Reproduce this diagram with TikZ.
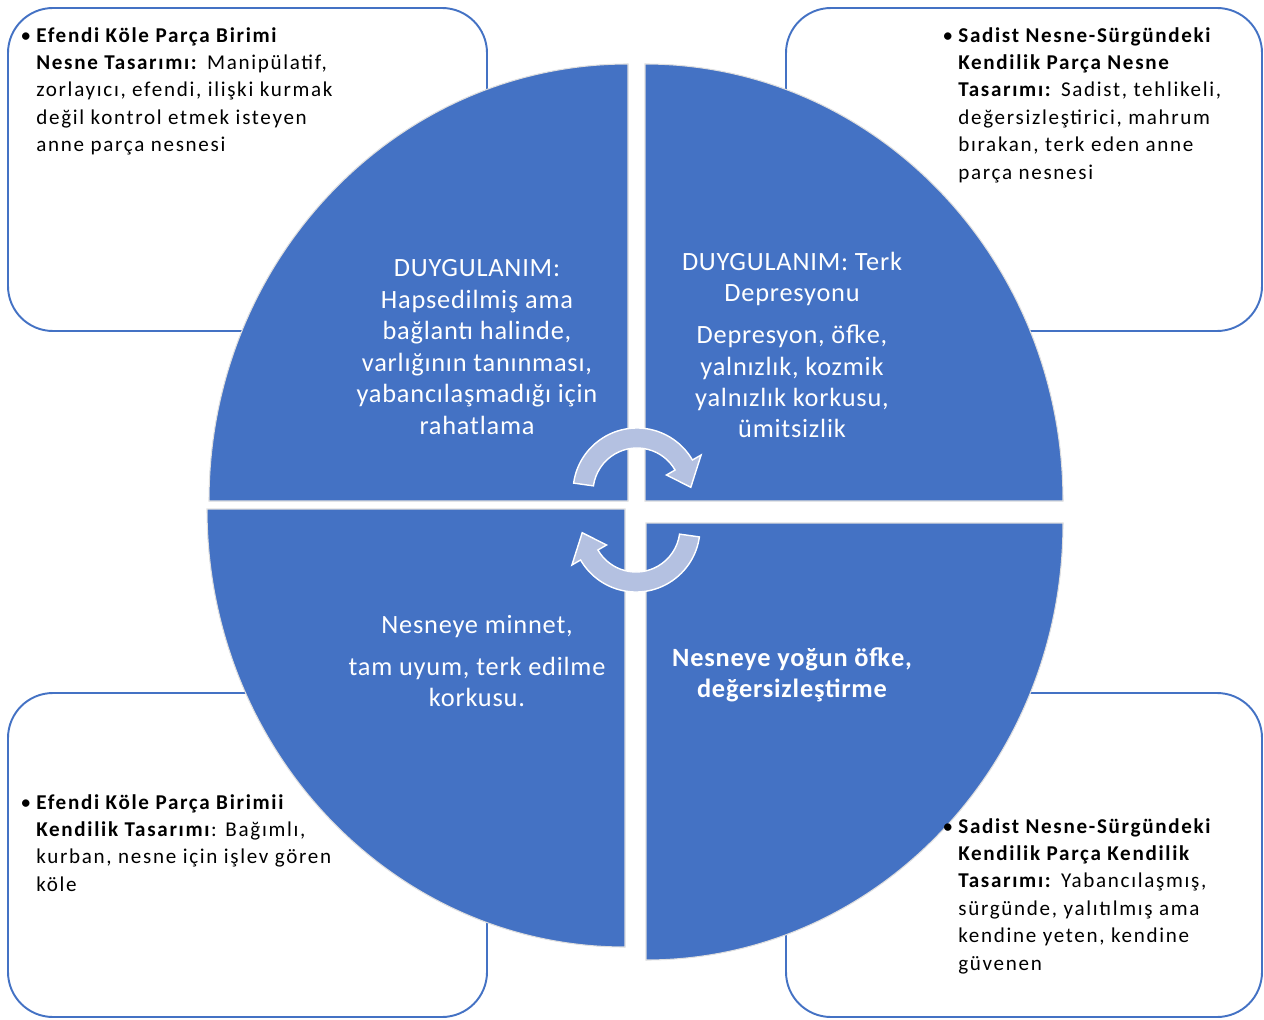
\documentclass[tikz,border=0pt]{standalone}
\usepackage{fontspec}
\setmainfont{Carlito}
\newfontfamily\notefont{Carlito}[LetterSpace=8]
\newfontfamily\quadfont{Carlito}[LetterSpace=3]
\definecolor{quadblue}{HTML}{4472C4}
\definecolor{arrowblue}{HTML}{B4C1E1}
\begin{document}
\begin{tikzpicture}[x=0.02cm, y=0.02cm,
    cornerbox/.style={draw=quadblue, line width=1.1pt, fill=white, rounded corners=0.9cm},
    quadrant/.style={fill=quadblue, draw=white!75!gray, line width=0.6pt},
    quadtext/.style={text=white, align=center, inner sep=0pt, font=\quadfont\fontsize{15}{17.9}\selectfont},
    boxtext/.style={anchor=north west, align=left, inner sep=0pt, font=\notefont\fontsize{12}{15.6}\selectfont},
    cyclearrow/.style={fill=arrowblue, draw=white, line width=0.8pt}]
    \useasboundingbox (0,0) rectangle (1264,1019);

    % corner boxes
    \draw[cornerbox] (8,688) rectangle (487,1011);
    \draw[cornerbox] (786,688) rectangle (1262,1011);
    \draw[cornerbox] (8,2) rectangle (487,326);
    \draw[cornerbox] (786,2) rectangle (1262,326);

    % quadrants
    \draw[quadrant] (628,518) -- (209,518) arc (180:90:419 and 437) -- cycle;
    \draw[quadrant] (645,518) -- (645,955) arc (90:0:418 and 437) -- cycle;
    \draw[quadrant] (625,510) -- (207,510) arc (180:270:418 and 438) -- cycle;
    \draw[quadrant] (646,496) -- (1063,496) arc (0:-90:417 and 437) -- cycle;

    % cycle arrows
    \foreach \cx/\cy/\rot in {637/527/0, 636/491/180}
      \draw[cyclearrow, shift={(\cx,\cy)}, rotate=\rot]
        (172:64) arc (172:30:64) -- (30:74) -- (5:54) -- (30:34) -- (30:44) arc (30:172:44) -- cycle;

    % quadrant texts
    \node(tlquad)[quadtext] at (477,672) {DUYGULANIM:\\Hapsedilmiş ama\\bağlantı halinde,\\varlığının tanınması,\\yabancılaşmadığı için\\rahatlama};
    \node(trquad)[quadtext] at (792,674) {DUYGULANIM: Terk\\Depresyonu\\[6pt]Depresyon, öfke,\\yalnızlık, kozmik\\yalnızlık korkusu,\\ümitsizlik};
    \node(blquad)[quadtext] at (477,358) {Nesneye minnet,\\[6pt]tam uyum, terk edilme\\korkusu.};
    \node(brquad)[quadtext, font=\quadfont\fontsize{15}{17.9}\selectfont\bfseries] at (792,344) {Nesneye yoğun öfke,\\değersizleştirme};

    % corner notes
    \node(tlnote)[boxtext] at (36,992) {\llap{\textbullet\hspace{3pt}}\textbf{Efendi Köle Parça Birimi}\\\textbf{Nesne Tasarımı:} Manipülatif,\\zorlayıcı, efendi, ilişki kurmak\\değil kontrol etmek isteyen\\anne parça nesnesi};
    \node(trnote)[boxtext] at (958,992) {\llap{\textbullet\hspace{3pt}}\textbf{Sadist Nesne-Sürgündeki}\\\textbf{Kendilik Parça Nesne}\\\textbf{Tasarımı:} Sadist, tehlikeli,\\değersizleştirici, mahrum\\bırakan, terk eden anne\\parça nesnesi};
    \node(blnote)[boxtext] at (36,225) {\llap{\textbullet\hspace{3pt}}\textbf{Efendi Köle Parça Birimii}\\\textbf{Kendilik Tasarımı}: Bağımlı,\\kurban, nesne için işlev gören\\köle};
    \node(brnote)[boxtext] at (958,201) {\llap{\textbullet\hspace{3pt}}\textbf{Sadist Nesne-Sürgündeki}\\\textbf{Kendilik Parça Kendilik}\\\textbf{Tasarımı:} Yabancılaşmış,\\sürgünde, yalıtılmış ama\\kendine yeten, kendine\\güvenen};
\end{tikzpicture}
\end{document}
